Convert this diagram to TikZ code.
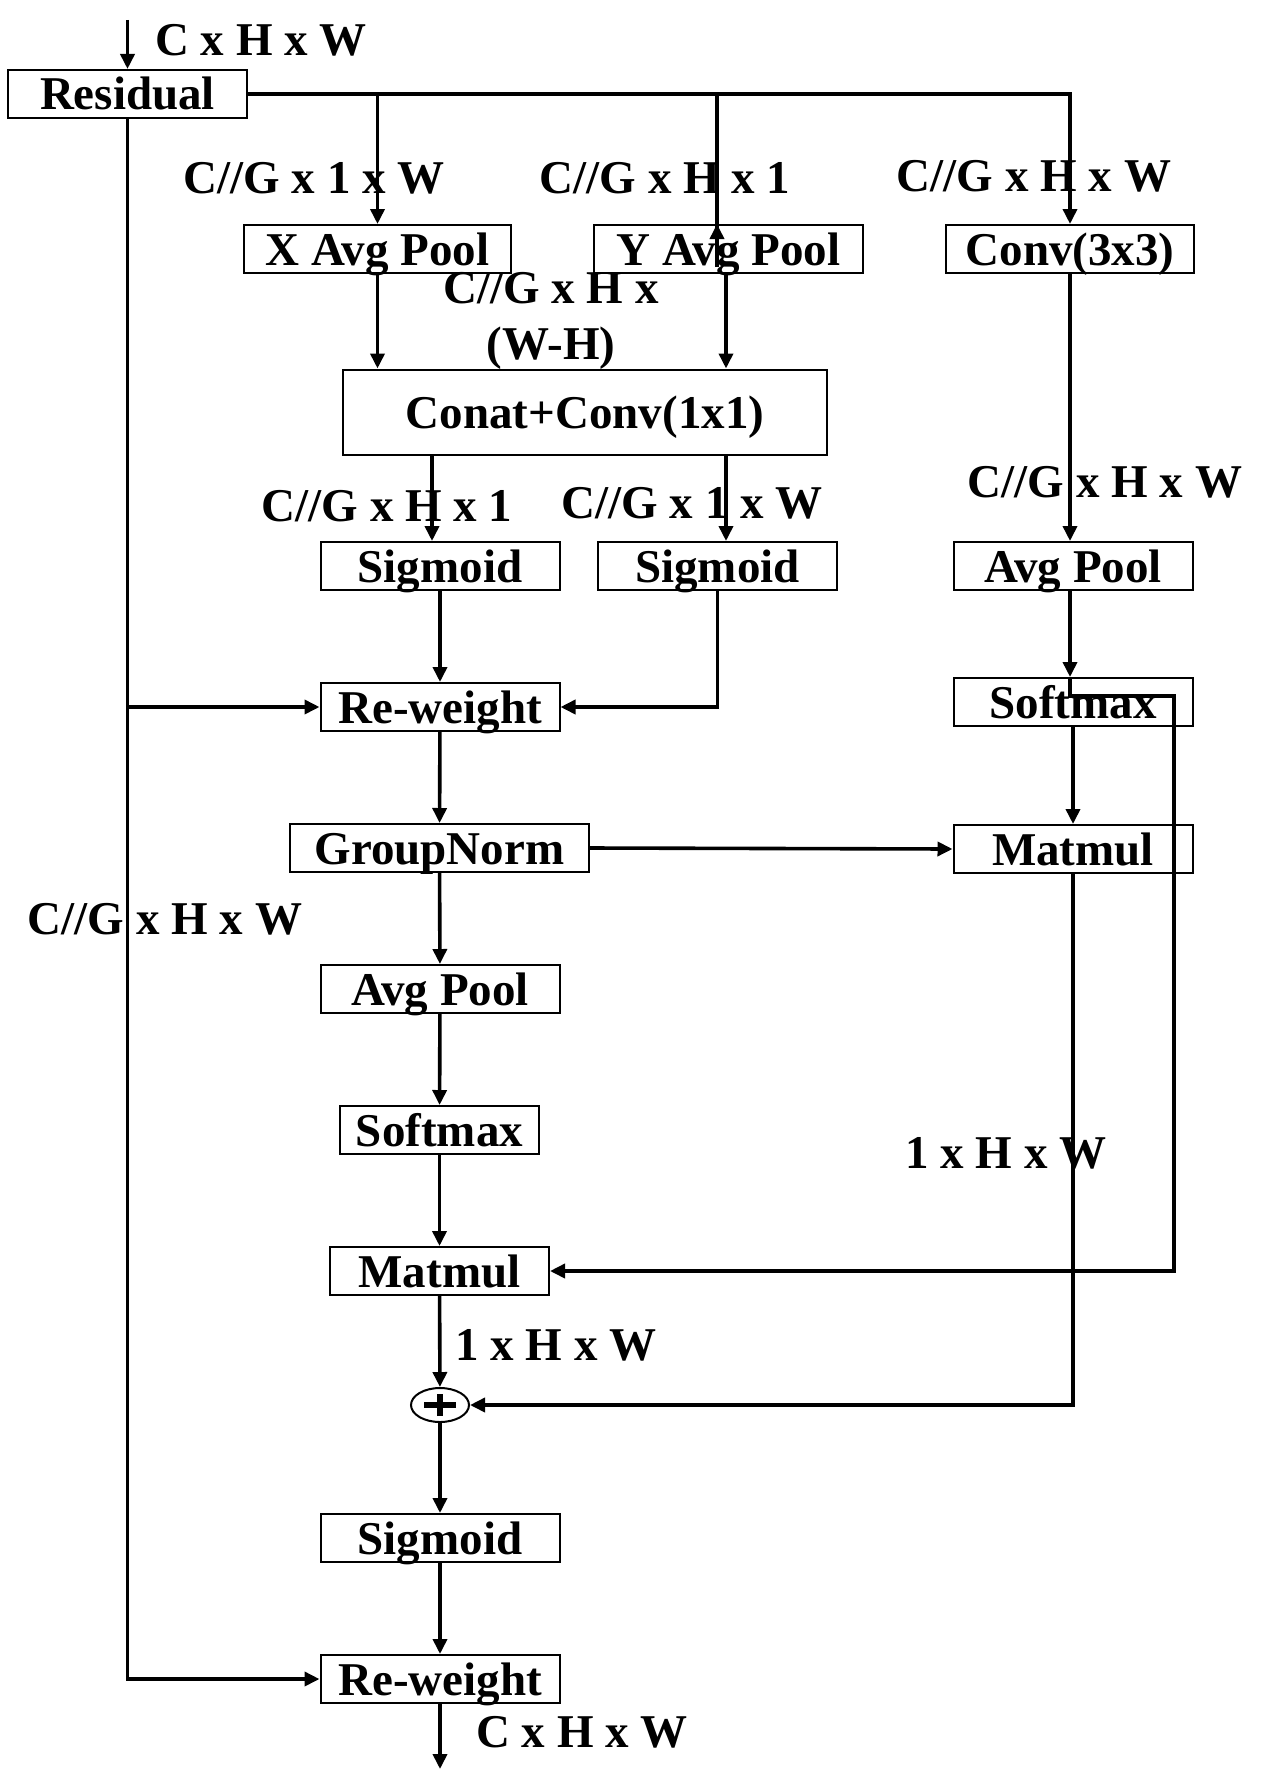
\documentclass[tikz,border=0pt]{standalone}
\usepackage{fontspec}
\setmainfont{Liberation Serif}
\usetikzlibrary{arrows.meta,calc,positioning,shapes.geometric}

\begin{document}
\begin{tikzpicture}[
    x=0.5pt,
    y=-0.5pt,
    >={Triangle[length=7.5pt,width=7pt]},
    font=\fontsize{23.5pt}{28pt}\selectfont\bfseries,
    box/.style={draw, line width=1pt, minimum width=119.5pt, minimum height=24pt, inner sep=0pt, text height=16pt, text depth=0pt},
    lbl/.style={inner sep=0pt, align=center},
    wire/.style={line width=1.8pt},
    line/.style={->, line width=1.8pt}
]
\useasboundingbox (0,0) rectangle (1270,1782);

% blocks
\node[box] (res) at (127.5,94) {Residual};
\node[box, minimum width=133.5pt] (xpool) at (377.5,249) {X Avg Pool};
\node[box, minimum width=134.5pt] (ypool) at (728.5,249) {Y Avg Pool};
\node[box, minimum width=124pt] (conv3) at (1070,249) {Conv(3x3)};
\node[box, minimum width=242pt, minimum height=42.5pt] (concat) at (585,412) {Conat+Conv(1x1)};
\node[box] (sigx) at (440,566) {Sigmoid};
\node[box] (sigy) at (717.5,566) {Sigmoid};
\node[box] (poolr) at (1073,566) {Avg Pool};
\node[box] (softr) at (1073,702) {Softmax};
\node[box] (matr) at (1073,849) {Matmul};
\node[box] (rw1) at (440,707) {Re-weight};
\node[box, minimum width=149.5pt] (gn) at (439.5,848) {GroupNorm};
\node[box] (pooll) at (440,989) {Avg Pool};
\node[box, minimum width=99.5pt] (softl) at (439.5,1130) {Softmax};
\node[box, minimum width=109.5pt] (matl) at (439.5,1271) {Matmul};
\node[ellipse, draw, line width=1pt, minimum width=29pt, minimum height=17pt, inner sep=0pt] (add) at (440,1405) {};
\node[box] (sig3) at (440,1538) {Sigmoid};
\node[box] (rw2) at (440,1679) {Re-weight};

% shape labels
\node[lbl] (lin) at (261,40) {C x H x W};
\node[lbl] (lxp) at (314,178) {C//G x 1 x W};
\node[lbl] (lyp) at (665,178) {C//G x H x 1};
\node[lbl] (lcv) at (1034,176) {C//G x H x W};
\node[lbl] (lcat) at (551,321) {C//G x H x\\(W-H)};
\node[lbl] (lsx) at (387,506) {C//G x H x 1};
\node[lbl] (lsy) at (692,503) {C//G x 1 x W};
\node[lbl] (lpr) at (1105,482) {C//G x H x W};
\node[lbl] (lres) at (165,919) {C//G x H x W};
\node[lbl] (lmr) at (1006,1153) {1 x H x W};
\node[lbl] (lml) at (556,1345) {1 x H x W};
\node[lbl] (lout) at (582,1732) {C x H x W};

% free ends and bends
\coordinate (in) at (127.5,20);
\coordinate (out) at (440,1769);
\coordinate (ytop) at (717,94);
\coordinate (ybot) at (717,267);
\coordinate (ylow) at (726,0);
\coordinate (cx) at (432,0);
\coordinate (sm) at (1070,696);
\coordinate (sr) at (1174,696);

\draw[line] (in) -- (res.north);
\draw[line] (res.east) -| (conv3.north);
\draw[line] (xpool.north |- res.east) -- (xpool.north);
\draw[wire] (ytop) -- (ybot);
\draw[line] (ybot) -- (ytop |- ypool.north);
\draw[line] (xpool.south) -- (xpool.south |- concat.north);
\draw[line] (ylow |- ypool.south) -- (ylow |- concat.north);
\draw[line] (cx |- concat.south) -- (cx |- sigx.north);
\draw[line] (ylow |- concat.south) -- (ylow |- sigy.north);
\draw[line] (conv3.south) -- (conv3.south |- poolr.north);
\draw[line] (poolr.south -| sm) -- (softr.north -| sm);
\draw[line] (softr.north -| sm) -- (sm) -- (sr) |- (matl.east);
\draw[line] (softr) -- (matr);
\draw[line] (gn.east) -- (matr.west);
\draw[line] (matr.south) |- (add.east);
\draw[line] (res.south) |- (rw2.west);
\draw[line] (res.south |- rw1.west) -- (rw1.west);
\draw[line] (sigx) -- (rw1);
\draw[line] (sigy.south) |- (rw1.east);
\draw[line] (rw1) -- (gn);
\draw[line] (gn) -- (pooll);
\draw[line] (pooll) -- (softl);
\draw[line] (softl) -- (matl);
\draw[line] (matl) -- (add);
\draw[line] (add) -- (sig3);
\draw[line] (sig3) -- (rw2);
\draw[line] (rw2) -- (out);
\draw[line width=3pt] ([xshift=-8pt]add.center) -- ([xshift=8pt]add.center);
\draw[line width=3pt] ([yshift=-5.5pt]add.center) -- ([yshift=5.5pt]add.center);
\end{tikzpicture}
\end{document}
